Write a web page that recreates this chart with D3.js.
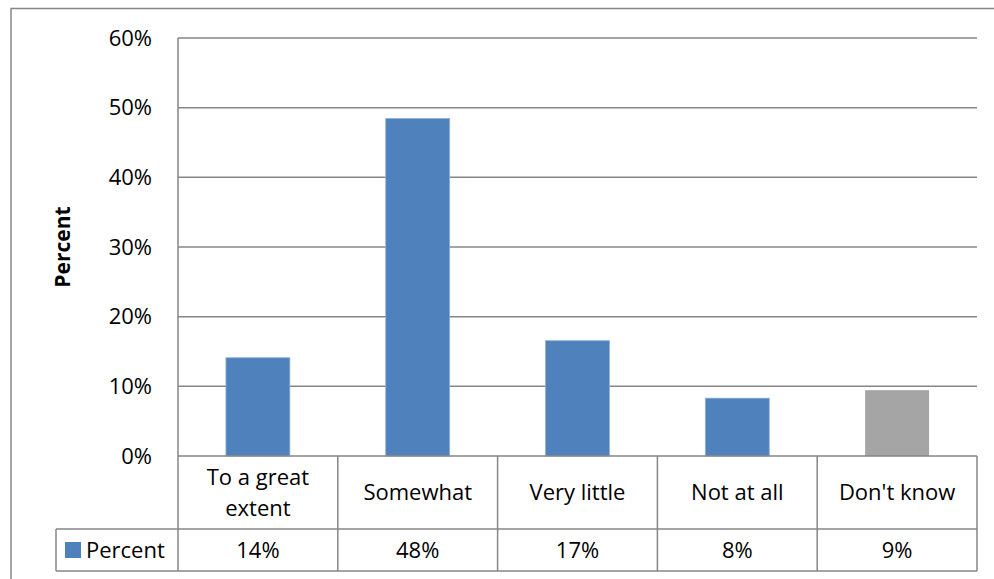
<!DOCTYPE html>
<html>
<head>
<meta charset="utf-8">
<script src="https://cdn.jsdelivr.net/npm/d3@7"></script>
<style>
  body { margin: 0; background: #fff; }
  text { font-family: "Open Sans", Lato, sans-serif; fill: #000; }
</style>
</head>
<body>
<div id="chart"></div>
<script>
// Chart data
var categories = ["To a great extent", "Somewhat", "Very little", "Not at all", "Don't know"];
var catLines = [["To a great", "extent"], ["Somewhat"], ["Very little"], ["Not at all"], ["Don't know"]];
var values = [14.1, 48.45, 16.55, 8.3, 9.45];
var tableLabels = ["14%", "48%", "17%", "8%", "9%"];
var barColors = ["#4F81BD", "#4F81BD", "#4F81BD", "#4F81BD", "#A5A5A5"];
var yTicks = [0, 10, 20, 30, 40, 50, 60];

var width = 994;
var height = 579;

// plot area
var plotLeft = 178, plotRight = 977, plotTop = 38, plotBottom = 456;
var row1 = 529, row2 = 571, legendLeft = 56;
var fontSize = "22px";

var svg = d3.select("#chart")
    .append("svg")
    .attr("width", width)
    .attr("height", height);

// outer chart border (cropped at right and bottom)
svg.append("path")
    .attr("d", "M11,600 L11,8.5 L1000,8.5")
    .attr("fill", "none")
    .attr("stroke", "#868686")
    .attr("stroke-width", 1.5);

var x = d3.scaleBand()
    .domain(categories)
    .range([plotLeft, plotRight])
    .paddingInner(0)
    .paddingOuter(0);

var y = d3.scaleLinear()
    .domain([0, 60])
    .range([plotBottom, plotTop]);

// gridlines
svg.append("g")
    .selectAll("line")
    .data(yTicks.filter(function (d) { return d > 0; }))
    .enter()
    .append("line")
    .attr("x1", plotLeft)
    .attr("x2", plotRight)
    .attr("y1", function (d) { return y(d); })
    .attr("y2", function (d) { return y(d); })
    .attr("stroke", "#868686")
    .attr("stroke-width", 1.5);

// y axis line
svg.append("line")
    .attr("x1", plotLeft).attr("x2", plotLeft)
    .attr("y1", plotTop).attr("y2", plotBottom)
    .attr("stroke", "#868686")
    .attr("stroke-width", 1.5);

// tick labels
svg.append("g")
    .selectAll("text")
    .data(yTicks)
    .enter()
    .append("text")
    .attr("x", 152)
    .attr("y", function (d) { return y(d); })
    .attr("dy", "0.35em")
    .attr("text-anchor", "end")
    .style("font-size", fontSize)
    .text(function (d) { return d + "%"; });

// y axis title
svg.append("text")
    .attr("transform", "translate(70,247) rotate(-90)")
    .attr("text-anchor", "middle")
    .style("font-size", "21px")
    .style("font-weight", "bold")
    .text("Percent");

// bars
var barW = x.bandwidth() * 0.4;
svg.append("g")
    .selectAll("rect")
    .data(values)
    .enter()
    .append("rect")
    .attr("x", function (d, i) { return x(categories[i]) + (x.bandwidth() - barW) / 2; })
    .attr("y", function (d) { return y(d); })
    .attr("width", barW)
    .attr("height", function (d) { return plotBottom - y(d); })
    .attr("fill", function (d, i) { return barColors[i]; })
    .attr("stroke", function (d, i) { return i < 4 ? "#8EB0DC" : "none"; })
    .attr("stroke-width", 0.8);

// data table grid
var grid = svg.append("g")
    .attr("stroke", "#868686")
    .attr("stroke-width", 1.5)
    .attr("fill", "none");

grid.append("line").attr("x1", plotLeft).attr("x2", plotRight).attr("y1", plotBottom).attr("y2", plotBottom);
grid.append("line").attr("x1", legendLeft).attr("x2", plotRight).attr("y1", row1).attr("y2", row1);
grid.append("line").attr("x1", legendLeft).attr("x2", plotRight).attr("y1", row2).attr("y2", row2);
grid.append("line").attr("x1", legendLeft).attr("x2", legendLeft).attr("y1", row1).attr("y2", row2);

grid.selectAll(".col")
    .data(categories)
    .enter()
    .append("line")
    .attr("x1", function (d) { return x(d) + x.bandwidth(); })
    .attr("x2", function (d) { return x(d) + x.bandwidth(); })
    .attr("y1", plotBottom)
    .attr("y2", row2);

grid.append("line").attr("x1", plotLeft).attr("x2", plotLeft).attr("y1", plotBottom).attr("y2", row2);

// category labels
var catG = svg.append("g")
    .selectAll("text")
    .data(categories)
    .enter()
    .append("text")
    .attr("text-anchor", "middle")
    .style("font-size", fontSize)
    .attr("x", function (d) { return x(d) + x.bandwidth() / 2; })
    .attr("y", function (d, i) {
        var n = catLines[i].length;
        return (plotBottom + row1) / 2 - (n - 1) * 15.5;
    });

catG.selectAll("tspan")
    .data(function (d, i) { return catLines[i]; })
    .enter()
    .append("tspan")
    .attr("x", function () { return d3.select(this.parentNode).attr("x"); })
    .attr("dy", function (d, j) { return j === 0 ? "0.35em" : "1.41em"; })
    .text(function (d) { return d; });

// values row
svg.append("g")
    .selectAll("text")
    .data(tableLabels)
    .enter()
    .append("text")
    .attr("text-anchor", "middle")
    .style("font-size", fontSize)
    .attr("x", function (d, i) { return x(categories[i]) + x.bandwidth() / 2; })
    .attr("y", (row1 + row2) / 2)
    .attr("dy", "0.35em")
    .text(function (d) { return d; });

// legend key
svg.append("rect")
    .attr("x", 65).attr("y", 542)
    .attr("width", 16).attr("height", 16)
    .attr("fill", "#4F81BD");

svg.append("text")
    .attr("x", 86)
    .attr("y", (row1 + row2) / 2)
    .attr("dy", "0.35em")
    .style("font-size", fontSize)
    .text("Percent");
</script>
</body>
</html>
